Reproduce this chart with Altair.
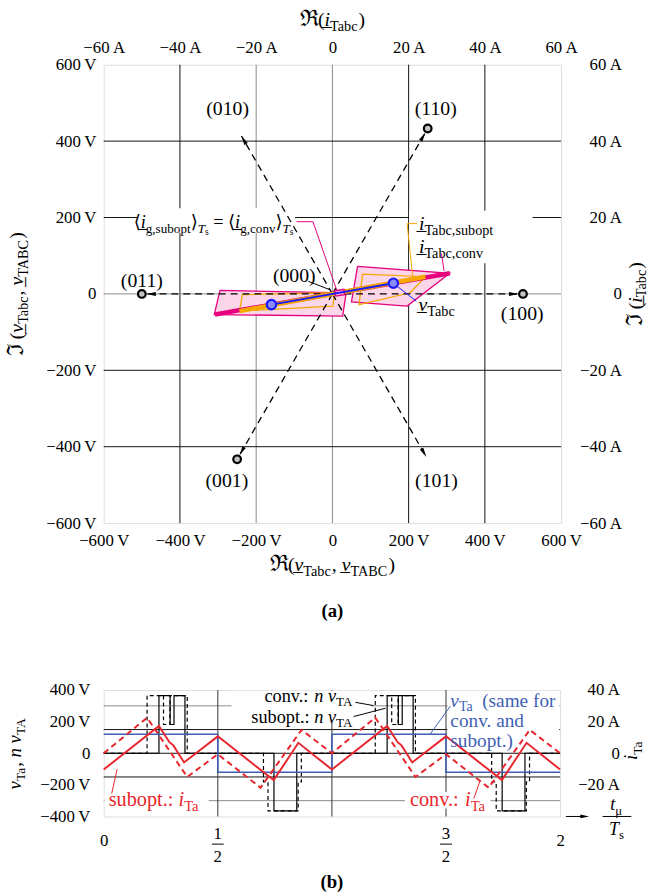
import math
import altair as alt
import pandas as pd

FONT = "Liberation Serif, 'Times New Roman', 'DejaVu Serif', serif"
MAGENTA = "#e6007e"
PINK_FILL = "#fbd6e8"
ORANGE = "#f6a800"
BLUE = "#1a1aff"
RED = "#e8262d"
SLATE = "#3f5fb5"

# ---------------------------------------------------------------
# (a) space-vector plane, volts (currents drawn at 10 V per A)
# ---------------------------------------------------------------
SV_W, SV_H = 463, 464
SV_LIM = 600
sv_ux = 2 * SV_LIM / SV_W   # volts per pixel, horizontal
sv_uy = 2 * SV_LIM / SV_H   # volts per pixel, vertical

sv_ticks = [-600, -400, -200, 0, 200, 400, 600]
grid_vals = [-400, -200, 0, 200, 400]
grid_x_colors = ["#111111", "#8a8a8a", "#8a8a8a", "#111111", "#111111"]
grid_y_colors = ["#111111", "#111111", "#8a8a8a", "#111111", "#111111"]

state_names = ["(100)", "(110)", "(010)", "(011)", "(001)", "(101)"]
state_re = [500, 250, -250, -500, -250, 250]
state_im = [0, 433, 433, 0, -433, -433]
state_dot = [True, True, False, True, True, False]
arrow_reach = [0.975, 0.975, 0.955, 0.975, 0.975, 0.985]
state_label_re = [498, 272, -275, -499, -277, 273]
state_label_im = [-52, 486, 486, 34, -489, -489]

# converter terminal voltage and transformer currents
v_tabc_re = [-160, 160]
v_tabc_im = [-28, 28]
i_conv_re = [-308, 308]
i_conv_im = [-54, 54]
i_sub_re = [-244, 244]
i_sub_im = [-45, 45]

# current ripple envelopes
pink_left_re = [-295, 36, 27, -310]
pink_left_im = [9, 3, -58, -54]
pink_right_re = [66, 308, 196, 50]
pink_right_im = [72, 54, -32, -21]
orange_left_re = [-236, 6, 1, -244]
orange_left_im = [-2, 3, -32, -45]
orange_right_re = [79, 244, 204, 70]
orange_right_im = [52, 45, 3, -28]
# averaged grid current marker
ig_re = [8, 32, 30, 6]
ig_im = [-6, -2, 12, 8]

# ---------------------------------------------------------------
# (b) time signals over two switching periods
# ---------------------------------------------------------------
B_W, B_H = 462, 128
b_ux = 2.0 / B_W
b_uy = 800.0 / B_H

t_vta = [0, 0.5, 0.5, 1.0, 1.0, 1.5, 1.5, 2.0]
v_ta = [120, 120, -120, -120, 120, 120, -120, -120]

t_nv_conv = [0, 0.19, 0.19, 0.262, 0.262, 0.29, 0.29, 0.366, 0.366, 0.70, 0.70, 0.72, 0.72,
             0.852, 0.852, 0.866, 0.866,
             1.19, 1.19, 1.262, 1.262, 1.29, 1.29, 1.366, 1.366, 1.70, 1.70, 1.72, 1.72,
             1.852, 1.852, 1.866, 1.866, 2.0]
nv_conv = [0, 0, 365, 365, 182, 182, 365, 365, 0, 0, -182, -182, -365,
           -365, -182, -182, 0,
           0, 365, 365, 182, 182, 365, 365, 0, 0, -182, -182, -365,
           -365, -182, -182, 0, 0]
t_nv_sub = [0, 0.242, 0.242, 0.291, 0.291, 0.308, 0.308, 0.356, 0.356, 0.746, 0.746, 0.846, 0.846,
            1.242, 1.242, 1.291, 1.291, 1.308, 1.308, 1.356, 1.356, 1.746, 1.746, 1.846, 1.846, 2.0]
nv_sub = [0, 0, 365, 365, 182, 182, 365, 365, 0, 0, -365, -365, 0,
          0, 365, 365, 182, 182, 365, 365, 0, 0, -365, -365, 0, 0]

t_i_sub = [0, 0.242, 0.288, 0.305, 0.352, 0.5, 0.745, 0.853,
           1.0, 1.242, 1.288, 1.305, 1.352, 1.5, 1.745, 1.853, 2.0]
i_ta_sub = [-10.3, 17.3, 7.0, 5.0, -5.8, 10.7, -17.0, 6.6,
            -10.3, 17.3, 7.0, 5.0, -5.8, 10.7, -17.0, 6.6, -10.3]
t_i_conv = [0, 0.19, 0.366, 0.5, 0.687, 0.867, 1.0, 1.19, 1.366, 1.5, 1.687, 1.867, 2.0]
i_ta_conv = [0, 22.5, -15.0, -0.6, -21.8, 14.8, 0, 22.5, -15.0, -0.6, -21.8, 14.8, 0]
AMP_TO_VOLT = 10

b_grid_y = [300, 150, 0, -150, -300]
b_grid_y_colors = ["#8a8a8a", "#111111", "#111111", "#111111", "#8a8a8a"]
b_grid_x = [0.5, 1.0, 1.5]

# ---------------------------------------------------------------
# rich text: runs of roman / italic / subscript pieces
# ---------------------------------------------------------------
ROMAN = {" ": 250, "\u2009": 200, "(": 333, ")": 333, ",": 250, ".": 250, ":": 278, "=": 564,
         "\u2212": 564, "A": 722, "B": 667, "C": 667, "T": 611, "V": 722,
         "a": 444, "b": 500, "c": 444, "d": 500, "e": 444, "f": 333, "g": 500,
         "m": 778, "n": 500, "o": 500, "p": 500, "r": 333, "s": 389, "t": 278,
         "u": 500, "v": 500, "\u03bc": 576, "\u27e8": 380, "\u27e9": 380,
         "\u211c": 800, "\u2111": 720, "\u0332": 0}
ITALIC = {"i": 278, "v": 444, "n": 500, "t": 278, "T": 556}
BOLD = {"(": 333, ")": 333, "a": 500, "b": 556}

# custom narrow arrow head, pointing up in symbol space
HEAD = "M0,-1L0.42,1L-0.42,1Z"

STYLE_SIZE = {"r": 1.0, "i": 1.0, "b": 1.0, "big": 1.15, "sr": 0.72, "si": 0.72, "ss": 0.52}
STYLE_SHIFT = {"r": 0.0, "i": 0.0, "b": 0.0, "big": 0.0, "sr": 0.24, "si": 0.24, "ss": 0.38}


def run_width(text, style, size):
    table = ITALIC if style in ("i", "si") else (BOLD if style == "b" else ROMAN)
    return sum(table.get(ch, ROMAN.get(ch, 500)) for ch in text) / 1000.0 * size


def rich(units, x, y, runs, align="left", angle=0, color="black", base=17.0):
    ux, uy = units
    sizes = [base * STYLE_SIZE[st] for _, st in runs]
    shifts = [base * STYLE_SHIFT[st] for _, st in runs]
    widths = [run_width(t, st, s) for (t, st), s in zip(runs, sizes)]
    total = sum(widths)
    along = {"left": 0.0, "center": -total / 2, "right": -total}[align]
    rows = []
    for (text, st), size, shift, w in zip(runs, sizes, shifts, widths):
        body = text.lstrip(" \u2009")
        start = along + run_width(text[:len(text) - len(body)], "r", size)
        perp = 0.33 * base + shift
        if angle == 0:
            sx, sy = start, perp
        else:
            sx, sy = perp, -start
        if body.strip():
            rows.append(dict(x=x + sx * ux, y=y - sy * uy, text=body.rstrip(), size=size,
                             color=color, angle=angle,
                             fstyle="italic" if st in ("i", "si") else "normal",
                             fweight="bold" if st == "b" else "normal"))
        along += w
    return rows


def text_layers(rows, X, Y):
    df = pd.DataFrame(rows)
    out = []
    for (fs, fw), g in df.groupby(["fstyle", "fweight"]):
        out.append(
            alt.Chart(g).mark_text(font=FONT, fontStyle=fs, fontWeight=fw, align="left",
                                   baseline="alphabetic").encode(
                x=X("x"), y=Y("y"), text="text:N",
                size=alt.Size("size:Q", scale=None),
                color=alt.Color("color:N", scale=None),
                angle=alt.Angle("angle:Q", scale=None)))
    return out


def polylines(lines):
    rows = []
    for lid, (xs, ys, color) in enumerate(lines):
        for k, (xv, yv) in enumerate(zip(xs, ys)):
            rows.append(dict(id=lid, k=k, x=xv, y=yv, color=color))
    return pd.DataFrame(rows)


AXIS_COMMON = dict(domain=False, ticks=False, tickSize=0, grid=False, title=None,
                   labelFont=FONT, labelFontSize=17, labelColor="black",
                   labelFlush=False, labelOverlap=False)

# ---------------- panel (a) ----------------
sv_scale_x = alt.Scale(domain=[-SV_LIM, SV_LIM], nice=False, zero=False)
sv_scale_y = alt.Scale(domain=[-SV_LIM, SV_LIM], nice=False, zero=False)


def AX(f):
    return alt.X(f"{f}:Q", scale=sv_scale_x, axis=None, title=None)


def AY(f):
    return alt.Y(f"{f}:Q", scale=sv_scale_y, axis=None, title=None)


one = pd.DataFrame({"x": [0.0], "y": [0.0]})
a_axes_lb = alt.Chart(one).mark_point(opacity=0).encode(
    x=alt.X("x:Q", scale=sv_scale_x, title=None, axis=alt.Axis(
        orient="bottom", values=sv_ticks, labelPadding=10,
        labelExpr="datum.value == 0 ? '0' : datum.label + '\u2009V'", **AXIS_COMMON)),
    y=alt.Y("y:Q", scale=sv_scale_y, title=None, axis=alt.Axis(
        orient="left", values=sv_ticks, labelPadding=8,
        labelExpr="datum.value == 0 ? '0' : datum.label + '\u2009V'", **AXIS_COMMON)))
a_axes_tr = alt.Chart(one).mark_point(opacity=0).encode(
    x=alt.X("x:Q", scale=sv_scale_x, title=None, axis=alt.Axis(
        orient="top", values=sv_ticks, labelPadding=8,
        labelExpr="datum.value == 0 ? '0' : format(datum.value / 10, 'd') + '\u2009A'",
        **AXIS_COMMON)),
    y=alt.Y("y:Q", scale=sv_scale_y, title=None, axis=alt.Axis(
        orient="right", values=sv_ticks, labelPadding=61, labelAlign="right",
        labelExpr="datum.value == 0 ? '0\u2007\u2007\u2009' : format(datum.value / 10, 'd') + '\u2009A'",
        **AXIS_COMMON)))

a_layers = [a_axes_lb, a_axes_tr]

gx = pd.DataFrame({"v": grid_vals, "c": grid_x_colors})
gy = pd.DataFrame({"v": grid_vals, "c": grid_y_colors})
a_layers.append(alt.Chart(gx).mark_rule(strokeWidth=1).encode(
    x=AX("v"), color=alt.Color("c:N", scale=None)))
a_layers.append(alt.Chart(gy).mark_rule(strokeWidth=1).encode(
    y=AY("v"), color=alt.Color("c:N", scale=None)))

# white backgrounds behind annotation text
a_boxes = pd.DataFrame({"x": [-510, 201], "x2": [-98, 525], "y": [160, 80], "y2": [224, 218]})
a_layers.append(alt.Chart(a_boxes).mark_rect(color="white").encode(
    x=AX("x"), x2=alt.X2("x2"), y=AY("y"), y2=alt.Y2("y2")))

# ripple envelopes
polys = polylines([
    (pink_left_re + pink_left_re[:1], pink_left_im + pink_left_im[:1], MAGENTA),
    (pink_right_re + pink_right_re[:1], pink_right_im + pink_right_im[:1], MAGENTA),
])
a_layers.append(alt.Chart(polys).mark_line(fill=PINK_FILL, strokeWidth=1.3).encode(
    x=AX("x"), y=AY("y"), detail="id:N", order="k:Q", color=alt.Color("color:N", scale=None)))
opolys = polylines([
    (orange_left_re + orange_left_re[:1], orange_left_im + orange_left_im[:1], ORANGE),
    (orange_right_re + orange_right_re[:1], orange_right_im + orange_right_im[:1], ORANGE),
])
a_layers.append(alt.Chart(opolys).mark_line(strokeWidth=1.3).encode(
    x=AX("x"), y=AY("y"), detail="id:N", order="k:Q", color=alt.Color("color:N", scale=None)))

# switching-state vectors
vec_lines = []
heads = []
for name, re, im, reach in zip(state_names, state_re, state_im, arrow_reach):
    vec_lines.append(([0, re * reach], [0, im * reach], "black"))
    theta = math.degrees(math.atan2(im, re))
    back = 12.0
    mag = math.hypot(re, im)
    heads.append(dict(x=re * reach - back * re / mag, y=im * reach - back * im / mag,
                      angle=(90 - theta) % 360))
a_layers.append(alt.Chart(polylines(vec_lines)).mark_line(strokeWidth=1.3, strokeDash=[7, 5]).encode(
    x=AX("x"), y=AY("y"), detail="id:N", order="k:Q", color=alt.Color("color:N", scale=None)))
a_layers.append(alt.Chart(pd.DataFrame(heads)).mark_point(
    shape=HEAD, filled=True, color="black", size=90, opacity=1).encode(
    x=AX("x"), y=AY("y"), angle=alt.Angle("angle:Q", scale=None)))
dots = pd.DataFrame({"x": [r for r, d in zip(state_re, state_dot) if d],
                     "y": [i for i, d in zip(state_im, state_dot) if d]})
a_layers.append(alt.Chart(dots).mark_point(
    shape="circle", filled=True, fill="#c4c4c4", stroke="black", strokeWidth=2.2,
    size=60, opacity=1).encode(x=AX("x"), y=AY("y")))

# current trajectories and terminal voltage
thick = polylines([(i_conv_re, i_conv_im, MAGENTA)])
a_layers.append(alt.Chart(thick).mark_line(strokeWidth=4.5).encode(
    x=AX("x"), y=AY("y"), detail="id:N", order="k:Q", color=alt.Color("color:N", scale=None)))
thick2 = polylines([(i_sub_re, i_sub_im, ORANGE)])
a_layers.append(alt.Chart(thick2).mark_line(strokeWidth=4.5).encode(
    x=AX("x"), y=AY("y"), detail="id:N", order="k:Q", color=alt.Color("color:N", scale=None)))
a_layers.append(alt.Chart(polylines([(ig_re + ig_re[:1], ig_im + ig_im[:1], MAGENTA)])).mark_line(
    fill="#f7a8cf", strokeWidth=1.3).encode(
    x=AX("x"), y=AY("y"), detail="id:N", order="k:Q", color=alt.Color("color:N", scale=None)))
a_layers.append(alt.Chart(polylines([(v_tabc_re, v_tabc_im, BLUE)])).mark_line(strokeWidth=2).encode(
    x=AX("x"), y=AY("y"), detail="id:N", order="k:Q", color=alt.Color("color:N", scale=None)))
a_layers.append(alt.Chart(pd.DataFrame({"x": v_tabc_re, "y": v_tabc_im})).mark_point(
    shape="circle", filled=True, fill="#8c8cff", stroke=BLUE, strokeWidth=2.2, size=90,
    opacity=1).encode(x=AX("x"), y=AY("y")))

# leader lines
leaders_a = polylines([
    ([-63, -7], [33, 11], "black"),
    ([-94, -51, 12], [189, 189, 8], MAGENTA),
    ([222, 196, 211], [184, 184, 41], ORANGE),
    ([286, 293], [106, 60], MAGENTA),
    ([170, 220], [20, -19], BLUE),
])
a_layers.append(alt.Chart(leaders_a).mark_line(strokeWidth=1).encode(
    x=AX("x"), y=AY("y"), detail="id:N", order="k:Q", color=alt.Color("color:N", scale=None)))

UA = (sv_ux, sv_uy)
a_text = []
for name, lx, ly in zip(state_names, state_label_re, state_label_im):
    a_text += rich(UA, lx, ly, [(name, "r")], align="center", base=20)
a_text += rich(UA, -100, 47, [("(000)", "r")], align="center", base=20)
a_text += rich(UA, -102, 188, [("\u27e8", "r"), ("i\u0332", "i"), ("g,subopt", "sr"), ("\u27e9", "r"),
                               ("T", "si"), ("s", "ss"), (" =", "r"), (" \u27e8", "r"),
                               ("i\u0332", "i"), ("g,conv", "sr"), ("\u27e9", "r"),
                               ("T", "si"), ("s", "ss")], align="right", base=18.5)
a_text += rich(UA, 227, 184, [("i\u0332", "i"), ("Tabc,subopt", "sr")], base=20)
a_text += rich(UA, 227, 123, [("i\u0332", "i"), ("Tabc,conv", "sr")], base=20)
a_text += rich(UA, 226, -28, [("v\u0332", "i"), ("Tabc", "sr")], base=20)
a_text += rich(UA, 0, 719, [("\u211c", "big"), ("(", "r"), ("i\u0332", "i"), ("Tabc", "sr"), (")", "r")],
               align="center", base=20)
a_text += rich(UA, 0, -708, [("\u211c", "big"), ("(", "r"), ("v\u0332", "i"), ("Tabc", "sr"), (",", "r"),
                             (" v\u0332", "i"), ("TABC", "sr"), (")", "r")], align="center", base=20)
a_text += rich(UA, -828, 0, [("\u2111", "big"), ("(", "r"), ("v\u0332", "i"), ("Tabc", "sr"), (",", "r"),
                             (" v\u0332", "i"), ("TABC", "sr"), (")", "r")], align="center",
               angle=270, base=20)
a_text += rich(UA, 794, 0, [("\u2111", "big"), ("(", "r"), ("i\u0332", "i"), ("Tabc", "sr"), (")", "r")],
               align="center", angle=270, base=20)
a_text += rich(UA, 0, -830, [("(a)", "b")], align="center", base=19)
a_layers += text_layers(a_text, AX, AY)

panel_a = alt.layer(*a_layers).resolve_axis(x="independent", y="independent").properties(
    width=SV_W, height=SV_H)

# ---------------- panel (b) ----------------
b_scale_x = alt.Scale(domain=[0, 2], nice=False, zero=False)
b_scale_y = alt.Scale(domain=[-400, 400], nice=False, zero=False)


def BX(f):
    return alt.X(f"{f}:Q", scale=b_scale_x, axis=None, title=None)


def BY(f):
    return alt.Y(f"{f}:Q", scale=b_scale_y, axis=None, title=None)


b_axes_lb = alt.Chart(one).mark_point(opacity=0).encode(
    x=alt.X("x:Q", scale=b_scale_x, title=None, axis=alt.Axis(
        orient="bottom", values=[0, 1, 2], labelPadding=16, format="d", **AXIS_COMMON)),
    y=alt.Y("y:Q", scale=b_scale_y, title=None, axis=alt.Axis(
        orient="left", values=[-400, -200, 0, 200, 400], labelPadding=14,
        labelExpr="datum.value == 0 ? '0' : datum.label + '\u2009V'", **AXIS_COMMON)))
b_axes_r = alt.Chart(one).mark_point(opacity=0).encode(
    x=alt.X("x:Q", scale=b_scale_x, title=None, axis=None),
    y=alt.Y("y:Q", scale=b_scale_y, title=None, axis=alt.Axis(
        orient="right", values=[-200, 0, 200, 400], labelPadding=60, labelAlign="right",
        labelExpr="datum.value == 0 ? '0\u2007\u2007\u2009' : format(datum.value / 10, 'd') + '\u2009A'",
        **AXIS_COMMON)))

b_layers = [b_axes_lb, b_axes_r]
b_layers.append(alt.Chart(pd.DataFrame({"v": b_grid_y, "c": b_grid_y_colors})).mark_rule(
    strokeWidth=1).encode(y=BY("v"), color=alt.Color("c:N", scale=None)))
b_layers.append(alt.Chart(pd.DataFrame({"v": b_grid_x})).mark_rule(
    strokeWidth=1, color="#333333").encode(x=BX("v")))

b_boxes = pd.DataFrame({"x": [0.56, 1.506, 0.004, 1.32], "x2": [1.17, 1.996, 0.46, 1.695],
                        "y": [200, 15, -350, -350], "y2": [396, 396, -245, -245]})
b_layers.append(alt.Chart(b_boxes).mark_rect(color="white").encode(
    x=BX("x"), x2=alt.X2("x2"), y=BY("y"), y2=alt.Y2("y2")))

pulses = pd.DataFrame({"t": t_nv_conv, "v": nv_conv, "k": range(len(t_nv_conv))})
b_layers.append(alt.Chart(pulses).mark_line(color="black", strokeWidth=1.2, strokeDash=[4, 3]).encode(
    x=BX("t"), y=BY("v"), order="k:Q"))
pulses_s = pd.DataFrame({"t": t_nv_sub, "v": nv_sub, "k": range(len(t_nv_sub))})
b_layers.append(alt.Chart(pulses_s).mark_line(color="black", strokeWidth=1.2).encode(
    x=BX("t"), y=BY("v"), order="k:Q"))
b_layers.append(alt.Chart(pd.DataFrame({"t": t_vta, "v": v_ta, "k": range(len(t_vta))})).mark_line(
    color=SLATE, strokeWidth=1.6).encode(x=BX("t"), y=BY("v"), order="k:Q"))
cur_c = pd.DataFrame({"t": t_i_conv, "v": [a * AMP_TO_VOLT for a in i_ta_conv]})
b_layers.append(alt.Chart(cur_c).mark_line(color=RED, strokeWidth=2, strokeDash=[6, 4]).encode(
    x=BX("t"), y=BY("v")))
cur_s = pd.DataFrame({"t": t_i_sub, "v": [a * AMP_TO_VOLT for a in i_ta_sub]})
b_layers.append(alt.Chart(cur_s).mark_line(color=RED, strokeWidth=2).encode(
    x=BX("t"), y=BY("v")))

leaders_b = polylines([
    ([1.103, 1.182], [322, 302], "black"),
    ([1.095, 1.235], [232, 285], "black"),
    ([1.519, 1.43], [298, 120], SLATE),
    ([0.059, 0.035], [-100, -254], RED),
    ([1.622, 1.649], [-286, -175], RED),
    ([2.026, 2.10], [-400, -400], "black"),
    ([2.186, 2.312], [-400, -400], "black"),
    ([0.474, 0.526], [-575, -575], "black"),
    ([1.474, 1.526], [-575, -575], "black"),
])
b_layers.append(alt.Chart(leaders_b).mark_line(strokeWidth=1).encode(
    x=BX("x"), y=BY("y"), detail="id:N", order="k:Q", color=alt.Color("color:N", scale=None)))
b_layers.append(alt.Chart(pd.DataFrame({"x": [2.108], "y": [-400], "a": [90]})).mark_point(
    shape=HEAD, filled=True, color="black", size=80, opacity=1).encode(
    x=BX("x"), y=BY("y"), angle=alt.Angle("a:Q", scale=None)))

UB = (b_ux, b_uy)
b_text = []
b_text += rich(UB, 1.095, 362, [("conv.: ", "r"), ("n", "i"), (" v", "i"), ("TA", "sr")],
               align="right", base=18.5)
b_text += rich(UB, 1.095, 232, [("subopt.: ", "r"), ("n", "i"), (" v", "i"), ("TA", "sr")],
               align="right", base=18.5)
b_text += rich(UB, 1.519, 334, [("v", "i"), ("Ta", "sr"), (" \u2009(same for", "r")], color=SLATE,
               base=19.5)
b_text += rich(UB, 1.519, 206, [("conv. and", "r")], color=SLATE, base=19.5)
b_text += rich(UB, 1.519, 78, [("subopt.)", "r")], color=SLATE, base=19.5)
b_text += rich(UB, 0.022, -292, [("subopt.: ", "r"), ("i", "i"), ("Ta", "sr")], color=RED, base=20.5)
b_text += rich(UB, 1.342, -292, [("conv.: ", "r"), ("i", "i"), ("Ta", "sr")], color=RED, base=20.5)
b_text += rich(UB, -0.39, 0, [("v", "i"), ("Ta", "sr"), (",", "r"), (" n", "i"),
                              (" v", "i"), ("TA", "sr")], align="center", angle=270, base=19)
b_text += rich(UB, 2.312, 19, [("i", "i"), ("Ta", "sr")], align="center", angle=270, base=19)
b_text += rich(UB, 2.247, -325, [("t", "i"), ("\u03bc", "sr")], align="center", base=18)
b_text += rich(UB, 2.247, -481, [("T", "i"), ("s", "sr")], align="center", base=18)
for fx, num in [(0.5, "1"), (1.5, "3")]:
    b_text += rich(UB, fx, -506, [(num, "r")], align="center", base=17)
    b_text += rich(UB, fx, -656, [("2", "r")], align="center", base=17)
b_text += rich(UB, 1.0, -812, [("(b)", "b")], align="center", base=19)
b_layers += text_layers(b_text, BX, BY)

panel_b = alt.layer(*b_layers).resolve_axis(x="independent", y="independent").properties(
    width=B_W, height=B_H)

chart = alt.vconcat(panel_a, panel_b, spacing=59).properties(
    padding={"left": 5, "top": 2, "right": 0, "bottom": 0}
).configure_view(stroke="black", strokeWidth=1.6).configure(background="white")

chart.save("out.html", embed_options={"renderer": "svg", "actions": False})
